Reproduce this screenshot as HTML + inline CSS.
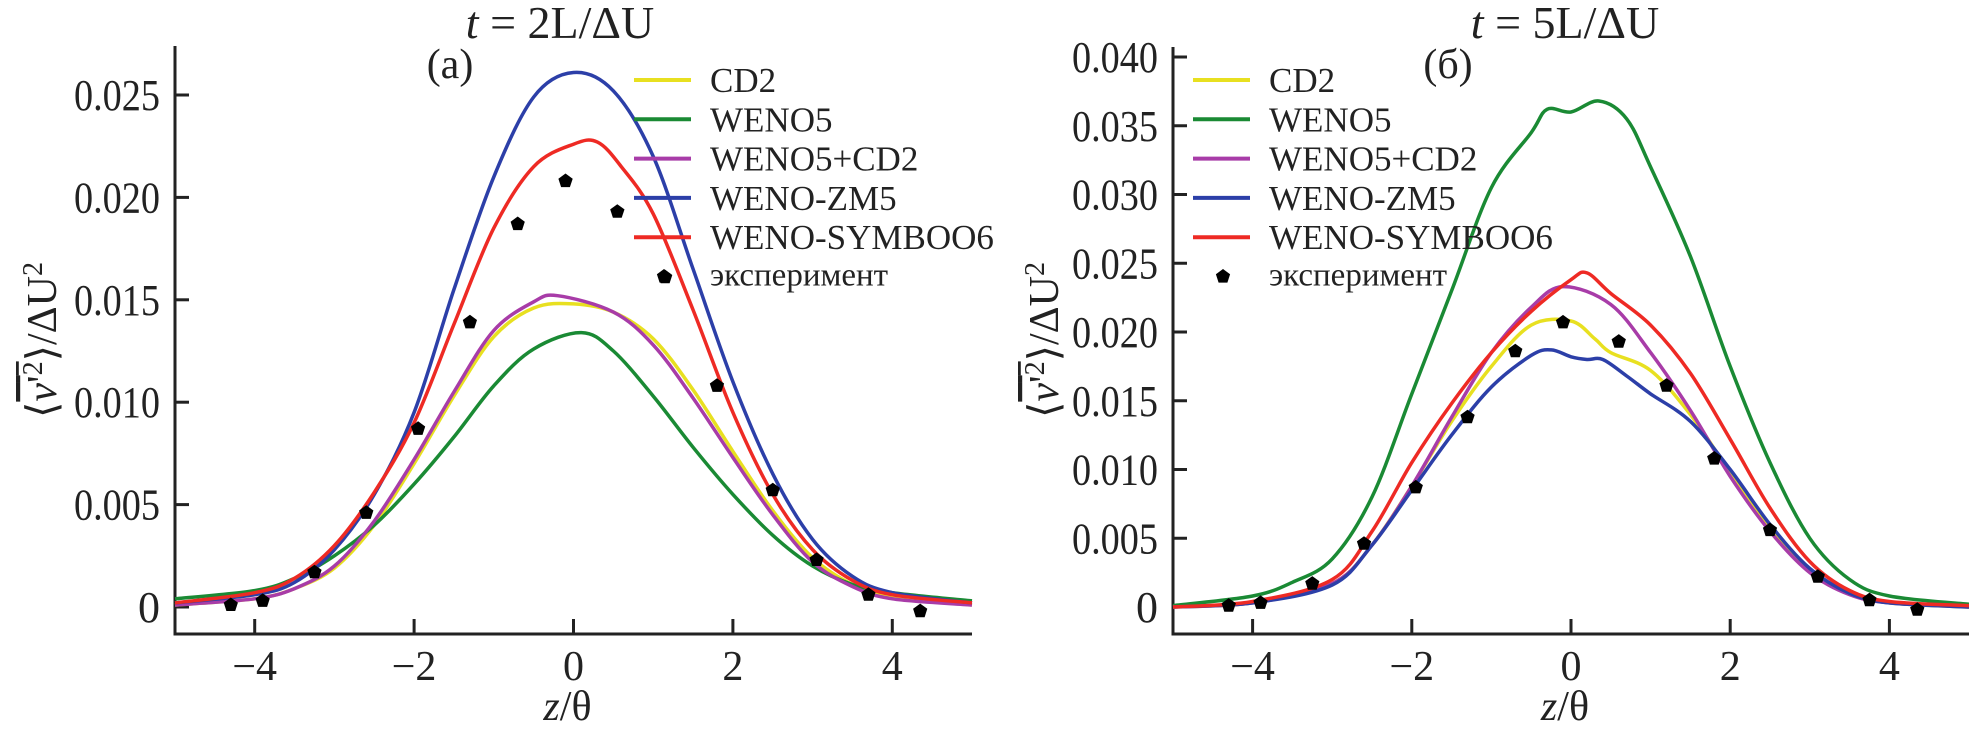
<!DOCTYPE html>
<html><head><meta charset="utf-8"><style>
html,body{margin:0;padding:0;background:#fff;}
svg{display:block;font-family:"Liberation Serif",serif;}
</style></head><body>
<svg id="chart" width="1969" height="733" viewBox="0 0 1969 733" xmlns="http://www.w3.org/2000/svg"></svg>
<script>
// ---- data: panel (a) ----
const xTicks = [-4, -2, 0, 2, 4];
const yTicksA = [0, 0.005, 0.010, 0.015, 0.020, 0.025];
const yTickLabelsA = ["0", "0.005", "0.010", "0.015", "0.020", "0.025"];
const yTicksB = [0, 0.005, 0.010, 0.015, 0.020, 0.025, 0.030, 0.035, 0.040];
const yTickLabelsB = ["0", "0.005", "0.010", "0.015", "0.020", "0.025", "0.030", "0.035", "0.040"];
const seriesNames = ["CD2", "WENO5", "WENO5+CD2", "WENO-ZM5", "WENO-SYMBOO6"];
const seriesColors = ["#e8e020", "#1a8a34", "#a83ca8", "#2c3fa8", "#ee2a24"];

const aZ_cd2 = [-5,-4,-3.5,-3,-2.5,-2,-1.5,-1,-0.5,0,0.5,1,1.5,2,2.5,3,3.5,4,5];
const aV_cd2 = [0.0001,0.0004,0.0009,0.0019,0.004,0.007,0.0103,0.0132,0.0146,0.0148,0.0144,0.0131,0.0106,0.0076,0.0047,0.0024,0.0011,0.0005,0.0001];
const aZ_weno5 = [-5,-4,-3.5,-3,-2.5,-2,-1.5,-1,-0.5,0.1,0.5,1,1.5,2,2.5,3,3.5,4,5];
const aV_weno5 = [0.0004,0.0008,0.0014,0.0025,0.004,0.006,0.0083,0.0108,0.0126,0.0134,0.0125,0.0103,0.0078,0.0055,0.0035,0.002,0.0011,0.0007,0.0003];
const aZ_wcd2 = [-5,-4,-3.5,-3,-2.5,-2,-1.5,-1,-0.5,-0.2,0.5,1,1.5,2,2.5,3,3.5,4,5];
const aV_wcd2 = [0.0001,0.0004,0.0009,0.002,0.0042,0.0072,0.0105,0.0135,0.0149,0.0152,0.0144,0.0128,0.0102,0.0073,0.0045,0.0022,0.001,0.0004,0.0001];
const aZ_zm5 = [-5,-4,-3.5,-3,-2.5,-2,-1.5,-1,-0.5,0,0.5,1,1.5,2,2.5,3,3.5,4,5];
const aV_zm5 = [0.0002,0.0006,0.0012,0.0028,0.0055,0.0095,0.0155,0.021,0.0249,0.0261,0.0252,0.022,0.0165,0.011,0.0065,0.0033,0.0015,0.0007,0.0002];
const aZ_sym = [-5,-4,-3.5,-3,-2.5,-2,-1.5,-1,-0.5,0,0.3,0.6,1,1.5,2,2.5,3,3.5,4,5];
const aV_sym = [0.0002,0.0007,0.0014,0.003,0.0056,0.009,0.0138,0.0185,0.0215,0.0226,0.0227,0.0215,0.0192,0.0145,0.0095,0.0055,0.0028,0.0013,0.0006,0.0002];
const aZ_exp = [-4.3,-3.9,-3.25,-2.6,-1.95,-1.3,-0.7,-0.1,0.55,1.15,1.8,2.5,3.05,3.7,4.35];
const aV_exp = [0.0001,0.0003,0.0017,0.0046,0.0087,0.0139,0.0187,0.0208,0.0193,0.0161,0.0108,0.0057,0.0023,0.0006,-0.0002];

// ---- data: panel (b) ----
const bZ_cd2 = [-5,-4,-3,-2.5,-2,-1.5,-1,-0.5,0,0.3,0.5,1,1.5,2,2.5,3,3.5,4,5];
const bV_cd2 = [0,0.0003,0.0017,0.0045,0.0088,0.0135,0.0175,0.0205,0.0208,0.0195,0.0185,0.0172,0.014,0.0098,0.0058,0.0026,0.001,0.0003,0];
const bZ_weno5 = [-5,-4,-3.5,-3,-2.5,-2,-1.5,-1,-0.5,-0.3,0,0.35,0.7,1,1.5,2,2.5,3,3.5,4,5];
const bV_weno5 = [0.0001,0.0008,0.0018,0.0035,0.008,0.0155,0.023,0.0305,0.0345,0.0362,0.036,0.0368,0.0355,0.032,0.0255,0.0175,0.0105,0.005,0.002,0.0008,0.0002];
const bZ_wcd2 = [-5,-4,-3,-2.5,-2,-1.5,-1,-0.5,-0.1,0.5,1,1.5,2,2.5,3,3.5,4,5];
const bV_wcd2 = [0,0.0003,0.0017,0.0045,0.0088,0.0138,0.0185,0.0218,0.0233,0.022,0.0185,0.0143,0.0095,0.0055,0.0025,0.0009,0.0003,0];
const bZ_zm5 = [-5,-4,-3,-2.5,-2,-1.5,-1,-0.5,-0.25,0,0.2,0.4,0.7,1,1.5,2,2.5,3,3.5,4,5];
const bV_zm5 = [0,0.0003,0.0016,0.0045,0.0085,0.0125,0.016,0.0183,0.0187,0.0182,0.018,0.018,0.0168,0.0155,0.0135,0.01,0.006,0.0028,0.001,0.0003,0];
const bZ_sym = [-5,-4,-3,-2.5,-2,-1.5,-1,-0.5,0,0.2,0.5,1,1.5,2,2.5,3,3.5,4,5];
const bV_sym = [0,0.0004,0.002,0.0055,0.0105,0.0148,0.0185,0.0215,0.0238,0.0243,0.0228,0.0205,0.017,0.0122,0.0072,0.0033,0.0012,0.0004,0.0001];
const bZ_exp = [-4.3,-3.9,-3.25,-2.6,-1.95,-1.3,-0.7,-0.1,0.6,1.2,1.8,2.5,3.1,3.75,4.35];
const bV_exp = [0.0001,0.0003,0.0017,0.0046,0.0087,0.0138,0.0186,0.0207,0.0193,0.0161,0.0108,0.0056,0.0022,0.0005,-0.0002];

const NS = "http://www.w3.org/2000/svg";
const svg = document.getElementById("chart");
function mk(tag, attrs, parent) {
  const e = document.createElementNS(NS, tag);
  for (const k in attrs) e.setAttribute(k, attrs[k]);
  (parent || svg).appendChild(e);
  return e;
}
function smoothPath(P) {
  let d = "M" + P[0][0].toFixed(1) + "," + P[0][1].toFixed(1);
  for (let i = 0; i < P.length - 1; i++) {
    const p0 = P[Math.max(0, i - 1)], p1 = P[i], p2 = P[i + 1], p3 = P[Math.min(P.length - 1, i + 2)];
    const c1x = p1[0] + (p2[0] - p0[0]) / 6, c1y = p1[1] + (p2[1] - p0[1]) / 6;
    const c2x = p2[0] - (p3[0] - p1[0]) / 6, c2y = p2[1] - (p3[1] - p1[1]) / 6;
    d += ` C${c1x.toFixed(1)},${c1y.toFixed(1)} ${c2x.toFixed(1)},${c2y.toFixed(1)} ${p2[0].toFixed(1)},${p2[1].toFixed(1)}`;
  }
  return d;
}
function pent(cx, cy, r) {
  const pts = [];
  for (let k = 0; k < 5; k++) { const a = -Math.PI / 2 + k * 2 * Math.PI / 5; pts.push((cx + r * Math.cos(a)).toFixed(1) + "," + (cy + r * Math.sin(a)).toFixed(1)); }
  return pts.join(" ");
}

function panel(cfg) {
  const g = mk("g", {});
  
  
  const X = z => cfg.x0 + (z - cfg.xmin) / (cfg.xmax - cfg.xmin) * (cfg.x1 - cfg.x0);
  const Y = v => cfg.yZero - v / 0.005 * cfg.yStep;

  const ax = mk("path", {d: `M${cfg.x0},${cfg.top} V${cfg.bottom} H${cfg.x1}`, fill: "none", stroke: "#222", "stroke-width": 3}, g);
  
  

  cfg.yTicks.forEach((t, i) => {
    const y = Y(t);
    const tk = mk("line", {x1: cfg.x0, x2: cfg.x0 + 14, y1: y, y2: y, stroke: "#222", "stroke-width": 3}, g);
    
    
    const lab = cfg.yLabels[i];
    const attrs = {x: cfg.x0 - 15, y: y + 15, "text-anchor": "end", "font-size": 44, fill: "#222"};
    if (lab.length > 1) { attrs.textLength = 86; attrs.lengthAdjust = "spacingAndGlyphs"; }
    const tl = mk("text", attrs, g);
    tl.textContent = lab;
    
    
  });
  xTicks.forEach(t => {
    const x = X(t);
    const tk = mk("line", {x1: x, x2: x, y1: cfg.bottom, y2: cfg.bottom - 15, stroke: "#222", "stroke-width": 3}, g);
    
    
    const tl = mk("text", {x: x, y: 680, "text-anchor": "middle", "font-size": 42, fill: "#222"}, g);
    tl.textContent = t < 0 ? "\u2212" + Math.abs(t) : String(t);
    
    
  });

  const xt = mk("text", {x: X(0) - 6, y: 720, "text-anchor": "middle", "font-size": 42, fill: "#222"}, g);
  xt.innerHTML = '<tspan font-style="italic">z</tspan>/θ';
  
  

  const yt = mk("text", {transform: `translate(${cfg.yTitleX},340) rotate(-90)`, "text-anchor": "middle", "font-size": 42, fill: "#222"}, g);
  yt.innerHTML = '⟨<tspan text-decoration="overline"><tspan font-style="italic">v</tspan>\'<tspan dy="-14" font-size="28">2</tspan></tspan><tspan dy="14">⟩/ΔU</tspan><tspan dy="-14" font-size="28">2</tspan>';
  
  

  const ti = mk("text", {x: cfg.titleX, y: 38, "text-anchor": "middle", "font-size": 46, fill: "#222"}, g);
  ti.innerHTML = '<tspan font-style="italic">t</tspan> = ' + cfg.title;
  
  
  const pl = mk("text", {x: cfg.tagX, y: 78, "text-anchor": "middle", "font-size": 42, fill: "#222"}, g);
  pl.textContent = cfg.tag;
  
  

  cfg.series.forEach((s, i) => {
    const P = s[0].map((z, j) => [X(z), Y(s[1][j])]);
    const p = mk("path", {d: smoothPath(P), fill: "none", stroke: seriesColors[i], "stroke-width": 3.5, "stroke-linejoin": "round"}, g);
    
    
  });
  cfg.expZ.forEach((z, j) => {
    const m = mk("polygon", {points: pent(X(z), Y(cfg.expV[j]), 7.5), fill: "#000"}, g);
    
    
  });

  const lg = mk("g", {}, g);
  
  
  seriesNames.forEach((n, i) => {
    const y = 80 + 39.3 * i;
    const ln = mk("line", {x1: cfg.legX, x2: cfg.legX + 57, y1: y, y2: y, stroke: seriesColors[i], "stroke-width": 4}, lg);
    
    
    const tx = mk("text", {x: cfg.legX + 76, y: y + 12, "font-size": 35, fill: "#222"}, lg);
    tx.textContent = n;
    
    
  });
  const ey = 80 + 39.3 * 5;
  const em = mk("polygon", {points: pent(cfg.legX + 30, ey, 7.5), fill: "#000"}, lg);
  
  
  const et = mk("text", {x: cfg.legX + 76, y: ey + 9, "font-size": 33, fill: "#222"}, lg);
  et.textContent = "эксперимент";
  
  
}

panel({
  name: "panel-a", x0: 175, x1: 972, xmin: -5, xmax: 5, top: 46, bottom: 634,
  yZero: 607, yStep: 102.4, yTicks: yTicksA, yLabels: yTickLabelsA, yTitleX: 56,
  title: "2L/ΔU", titleX: 560, tag: "(a)", tagX: 450, legX: 634,
  series: [[aZ_cd2, aV_cd2], [aZ_weno5, aV_weno5], [aZ_wcd2, aV_wcd2], [aZ_zm5, aV_zm5], [aZ_sym, aV_sym]],
  expZ: aZ_exp, expV: aV_exp
});
panel({
  name: "panel-b", x0: 1173, x1: 1969, xmin: -5, xmax: 5, top: 47, bottom: 634,
  yZero: 607, yStep: 68.75, yTicks: yTicksB, yLabels: yTickLabelsB, yTitleX: 1058,
  title: "5L/ΔU", titleX: 1565, tag: "(б)", tagX: 1448, legX: 1193,
  series: [[bZ_cd2, bV_cd2], [bZ_weno5, bV_weno5], [bZ_wcd2, bV_wcd2], [bZ_zm5, bV_zm5], [bZ_sym, bV_sym]],
  expZ: bZ_exp, expV: bV_exp
});
</script>
</body></html>
